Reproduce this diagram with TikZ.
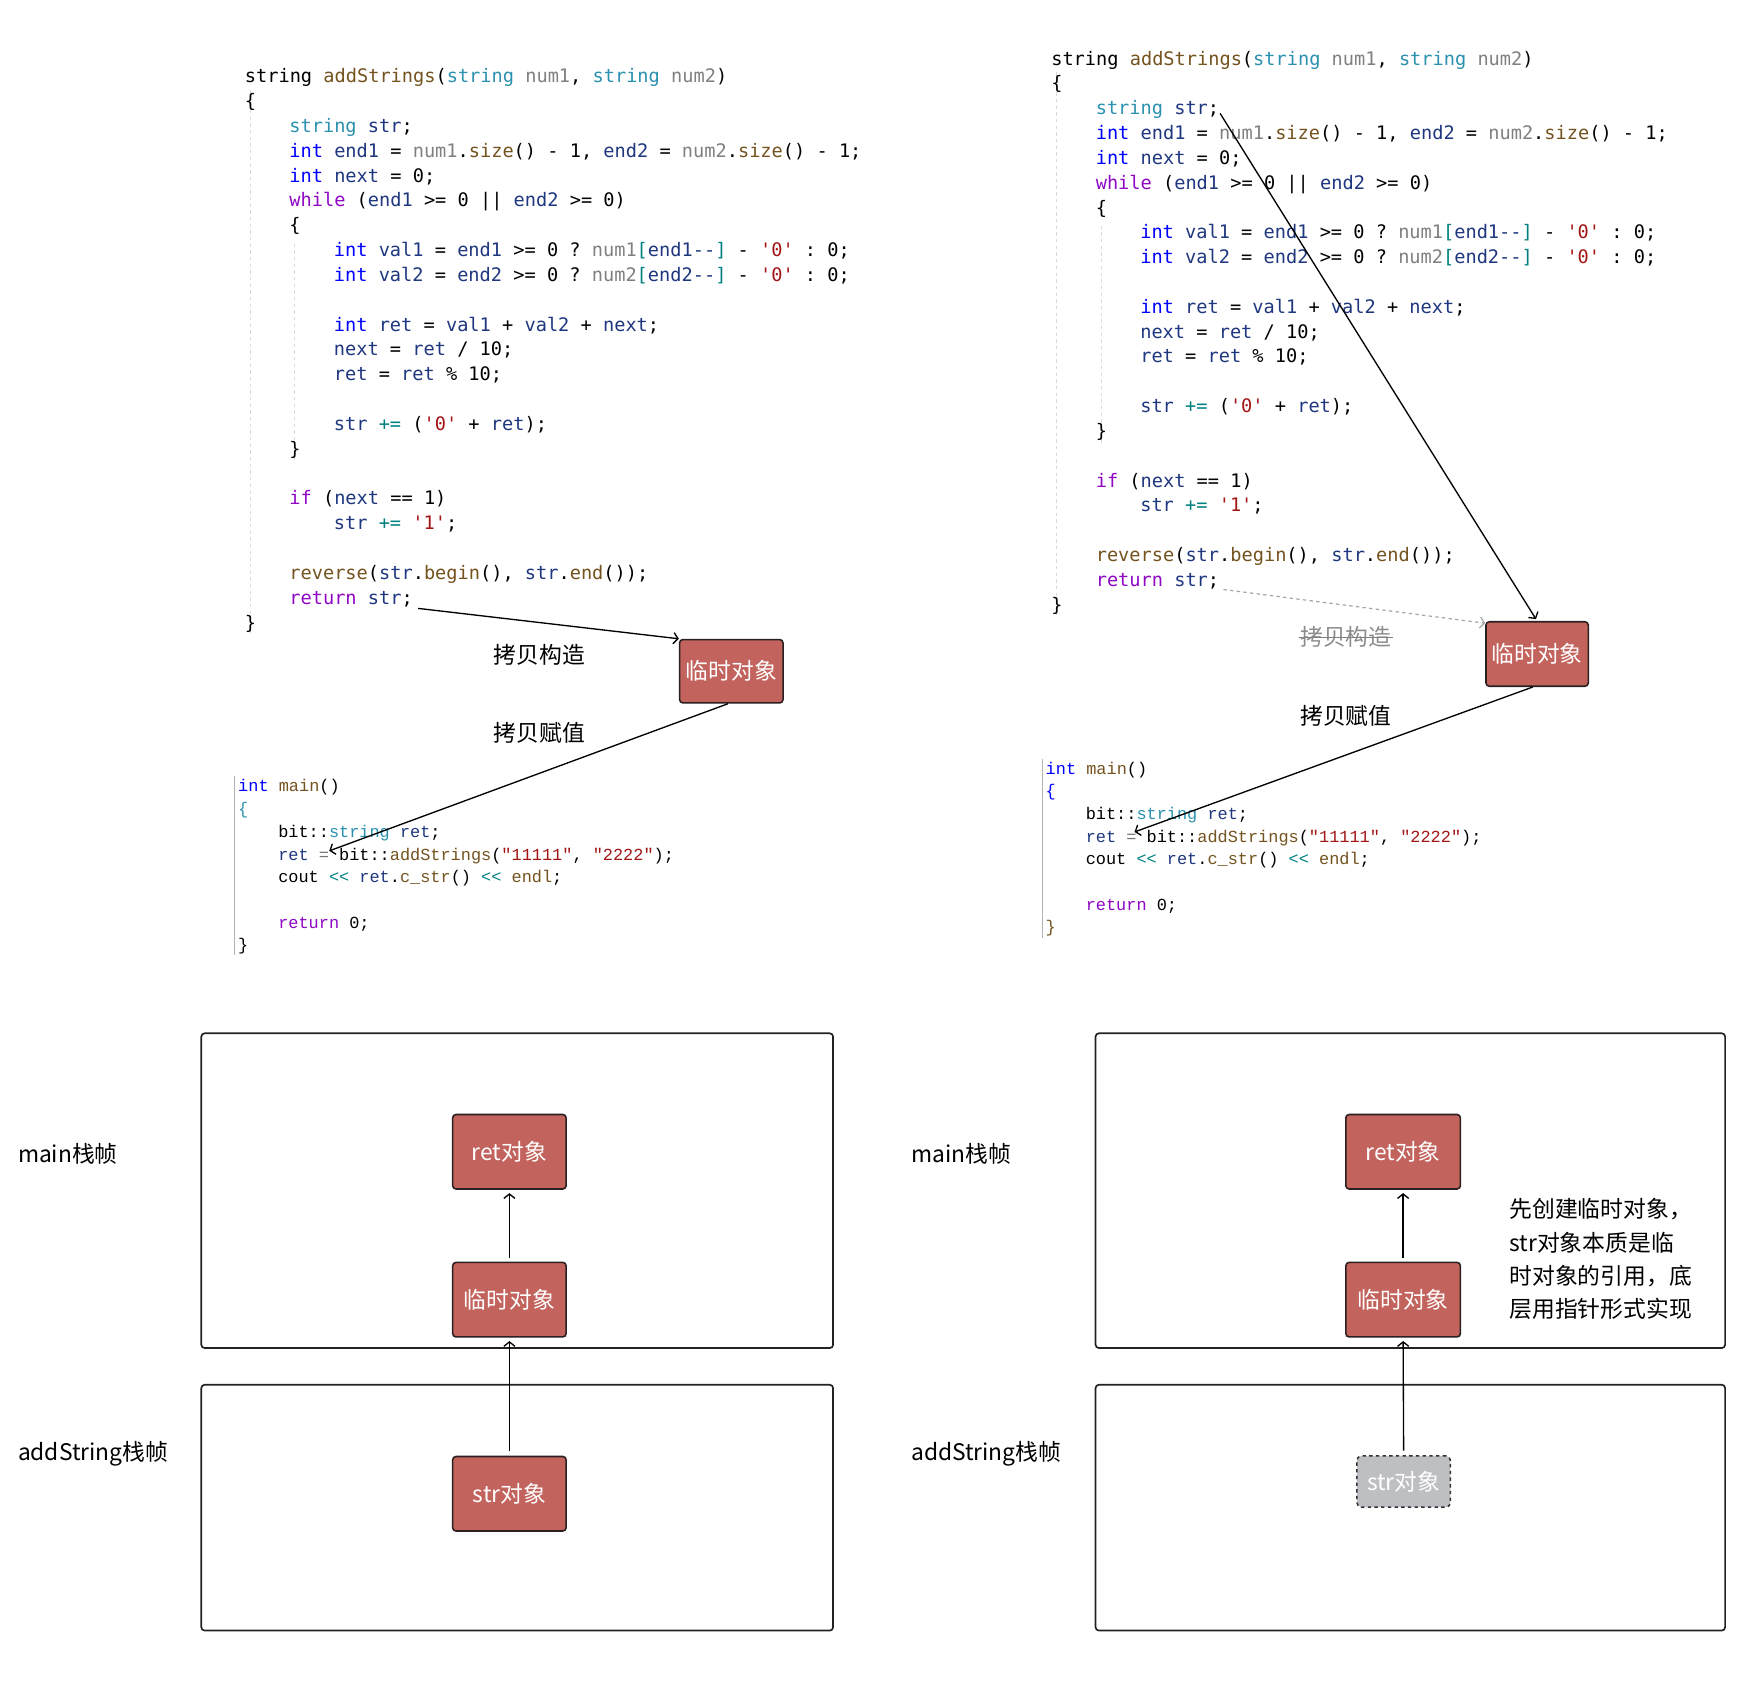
\documentclass[tikz,border=0pt]{standalone}
\usepackage{fontspec}
\usetikzlibrary{arrows.meta}
\newfontfamily\cjkfont{Noto Sans CJK SC}
\newfontfamily\codefont{DejaVu Sans Mono}
\newfontfamily\mcodefont{Liberation Mono}
\definecolor{ckw}{HTML}{0000FF}
\definecolor{cctl}{HTML}{8F08C4}
\definecolor{ctyp}{HTML}{2B91AF}
\definecolor{cpar}{HTML}{808080}
\definecolor{cfn}{HTML}{74531F}
\definecolor{cloc}{HTML}{1F377F}
\definecolor{cstr}{HTML}{A31515}
\definecolor{cop}{HTML}{008080}
\definecolor{objfill}{HTML}{C3635D}
\definecolor{objedge}{HTML}{2A2020}
\definecolor{ghostfill}{HTML}{BEBFC3}
\definecolor{framec}{HTML}{222222}
\newcommand\cKW[1]{\textcolor{ckw}{#1}}
\newcommand\cCT[1]{\textcolor{cctl}{#1}}
\newcommand\cTY[1]{\textcolor{ctyp}{#1}}
\newcommand\cPA[1]{\textcolor{cpar}{#1}}
\newcommand\cFN[1]{\textcolor{cfn}{#1}}
\newcommand\cLO[1]{\textcolor{cloc}{#1}}
\newcommand\cST[1]{\textcolor{cstr}{#1}}
\newcommand\cOP[1]{\textcolor{cop}{#1}}
\tikzset{
  cl/.style={anchor=base west, inner sep=0pt, font=\codefont\fontsize{16.75}{20}\selectfont\frenchspacing},
  ml/.style={anchor=base west, inner sep=0pt, font=\mcodefont\fontsize{15.2}{18}\selectfont\frenchspacing},
  lbl/.style={inner sep=0pt, font=\cjkfont\fontsize{20.5}{24}\selectfont},
  obj/.style={draw=objedge, fill=objfill, rounded corners=3pt, line width=1.4pt, text=white,
              font=\cjkfont\fontsize{20.5}{24}\selectfont, inner sep=0pt},
  ghost/.style={draw=black!80, dashed, fill=ghostfill, rounded corners=4pt, line width=1.4pt, text=white,
              font=\cjkfont\fontsize{20.5}{24}\selectfont, inner sep=0pt},
  frame/.style={draw=framec, rounded corners=3pt, line width=1.5pt, inner sep=0pt},
  arr/.style={-{Straight Barb[length=4pt,width=10pt]}, line width=1.2pt},
  guide/.style={draw=black!15, dashed, line width=0.8pt},
  bar/.style={draw=black!30, line width=1.2pt},
}
\newcommand\codeblock[3]{%
\begin{scope}[shift={(#2,#3)}]
  \draw[guide] (5,12) -- (5,500);
  \draw[guide] (45,150) -- (45,345);
  \node[cl] (#1a) at (0,5.5) {string \cFN{addStrings}(\cTY{string} \cPA{num1}, \cTY{string} \cPA{num2})};
  \node[cl] (#1b) at (0,27.82) {\{};
  \node[cl] (#1c) at (40,50.14) {\cTY{string} \cLO{str};};
  \node[cl] (#1d) at (40,72.46) {\cKW{int} \cLO{end1} = \cPA{num1}.\cFN{size}() - 1, \cLO{end2} = \cPA{num2}.\cFN{size}() - 1;};
  \node[cl] (#1e) at (40,94.78) {\cKW{int} \cLO{next} = 0;};
  \node[cl] (#1f) at (40,117.1) {\cCT{while} (\cLO{end1} >= 0 || \cLO{end2} >= 0)};
  \node[cl] (#1g) at (40,139.42) {\{};
  \node[cl] (#1h) at (80,161.74) {\cKW{int} \cLO{val1} = \cLO{end1} >= 0 ? \cPA{num1}\cOP{[}\cLO{end1--}\cOP{]} - \cST{'0'} : 0;};
  \node[cl] (#1i) at (80,184.06) {\cKW{int} \cLO{val2} = \cLO{end2} >= 0 ? \cPA{num2}\cOP{[}\cLO{end2--}\cOP{]} - \cST{'0'} : 0;};
  \node[cl] (#1j) at (80,228.7) {\cKW{int} \cLO{ret} = \cLO{val1} + \cLO{val2} + \cLO{next};};
  \node[cl] (#1k) at (80,251.02) {\cLO{next} = \cLO{ret} / 10;};
  \node[cl] (#1l) at (80,273.34) {\cLO{ret} = \cLO{ret} \% 10;};
  \node[cl] (#1m) at (80,317.98) {\cLO{str} \cOP{+=} (\cST{'0'} + \cLO{ret});};
  \node[cl] (#1n) at (40,340.3) {\}};
  \node[cl] (#1o) at (40,384.94) {\cCT{if} (\cLO{next} == 1)};
  \node[cl] (#1p) at (80,407.26) {\cLO{str} \cOP{+=} \cST{'1'};};
  \node[cl] (#1q) at (40,451.9) {\cFN{reverse}(\cLO{str}.\cFN{begin}(), \cLO{str}.\cFN{end}());};
  \node[cl] (#1r) at (40,474.22) {\cCT{return} \cLO{str};};
  \node[cl] (#1s) at (0,496.54) {\}};
\end{scope}}
% #4 colour of opening brace, #5 colour of closing brace
\newcommand\mainblock[5]{%
\begin{scope}[shift={(#2,#3)}]
  \draw[bar] (-3,-9) -- (-3,152);
  \node[ml] (#1a) at (0,5) {\cKW{int} \cFN{main}()};
  \node[ml] (#1b) at (0,25.4) {\textcolor{#4}{\{}};
  \node[ml] (#1c) at (36,45.8) {bit::\cTY{string} \cLO{ret};};
  \node[ml] (#1d) at (36,66.2) {\cLO{ret} \textcolor{black!55}{=} bit::\cFN{addStrings}(\cST{"11111"}, \cST{"2222"});};
  \node[ml] (#1e) at (36,86.6) {cout \cOP{<<} \cLO{ret}.\cFN{c\_str}() \cOP{<<} \cFN{endl};};
  \node[ml] (#1f) at (36,127.4) {\cCT{return} 0;};
  \node[ml] (#1g) at (0,147.8) {\textcolor{#5}{\}}};
\end{scope}}
\begin{document}
\begin{tikzpicture}[x=1pt,y=-1pt]
\useasboundingbox[fill=white] (0,0) rectangle (1568,1534);

% ---------- code listings ----------
\codeblock{cL}{220}{69}
\codeblock{cR}{945}{53}
\mainblock{mL}{214}{707}{ctyp}{black}
\mainblock{mR}{940}{691}{ckw}{cfn}

% ---------- upper temporaries ----------
\node[obj, minimum width=93pt, minimum height=57pt] (tmpL) at (657.5,603.5) {临时对象};
\node[obj, minimum width=92pt, minimum height=58pt] (tmpR) at (1382,588) {临时对象};

\node[lbl] (cgL) at (485,589) {拷贝构造};
\node[lbl] (fzL) at (485,659) {拷贝赋值};
\node[lbl, text=black!45] (cgR) at (1210,573) {拷贝构造};
\draw[black!50, line width=1.3pt] ([xshift=-1pt]cgR.west) -- ([xshift=1pt]cgR.east);
\node[lbl] (fzR) at (1210,644) {拷贝赋值};

\coordinate (retEndL) at (376,547);
\coordinate (retEqL) at (296,765);
\draw[arr] (retEndL) -- (tmpL.north west);
\draw[arr] ([xshift=-3pt]tmpL.south) -- (retEqL);

\coordinate (strDeclR) at (1097,102);
\coordinate (retEndR) at (1100,530);
\coordinate (retEqR) at (1020,748);
\draw[arr, shorten >=2pt] (strDeclR) -- (tmpR.north);
\draw[arr, black!35, dashed, line width=1.1pt] (retEndR) -- ([yshift=-2pt]tmpR.north west);
\draw[arr] ([xshift=-4pt]tmpR.south) -- (retEqR);

% ---------- stack frames, left ----------
\node[frame, minimum width=568pt, minimum height=283pt] (mainFL) at (465,1070.5) {};
\node[frame, minimum width=568pt, minimum height=221pt] (addFL) at (465,1355.5) {};
\node[lbl, anchor=west] (mainLL) at (16,1037) {main栈帧};
\node[lbl, anchor=west] (addLL) at (16,1307) {addString栈帧};

\node[obj, minimum width=102pt, minimum height=67pt] (retBL) at (458,1035.5) {ret对象};
\node[obj, minimum width=102pt, minimum height=67pt] (tmpBL) at (458,1168.5) {临时对象};
\node[obj, minimum width=102pt, minimum height=67pt] (strBL) at (458,1343) {str对象};
\draw[arr, shorten <=3pt, shorten >=3pt] (tmpBL.north) -- (retBL.south);
\draw[arr, shorten <=4pt, shorten >=3pt] (strBL.north) -- (tmpBL.south);

% ---------- stack frames, right ----------
\node[frame, minimum width=566pt, minimum height=283pt] (mainFR) at (1268,1070.5) {};
\node[frame, minimum width=566pt, minimum height=221pt] (addFR) at (1268,1355.5) {};
\node[lbl, anchor=west] (mainLR) at (819,1037) {main栈帧};
\node[lbl, anchor=west] (addLR) at (819,1307) {addString栈帧};

\node[obj, minimum width=103pt, minimum height=67pt] (retBR) at (1261.5,1035.5) {ret对象};
\node[obj, minimum width=103pt, minimum height=67pt] (tmpBR) at (1261.5,1168.5) {临时对象};
\node[ghost, minimum width=84pt, minimum height=46pt] (strBR) at (1262,1332) {str对象};
\draw[arr, shorten <=3pt, shorten >=3pt] (tmpBR.north) -- (retBR.south);
\draw[arr, shorten <=4pt, shorten >=3pt] (strBR.north) -- (tmpBR.south);

\node[lbl, anchor=west, align=left, font=\cjkfont\fontsize{20.5}{30}\selectfont] (noteR) at (1357,1132)
  {先创建临时对象，\\str对象本质是临\\时对象的引用，底\\层用指针形式实现};
\end{tikzpicture}
\end{document}
